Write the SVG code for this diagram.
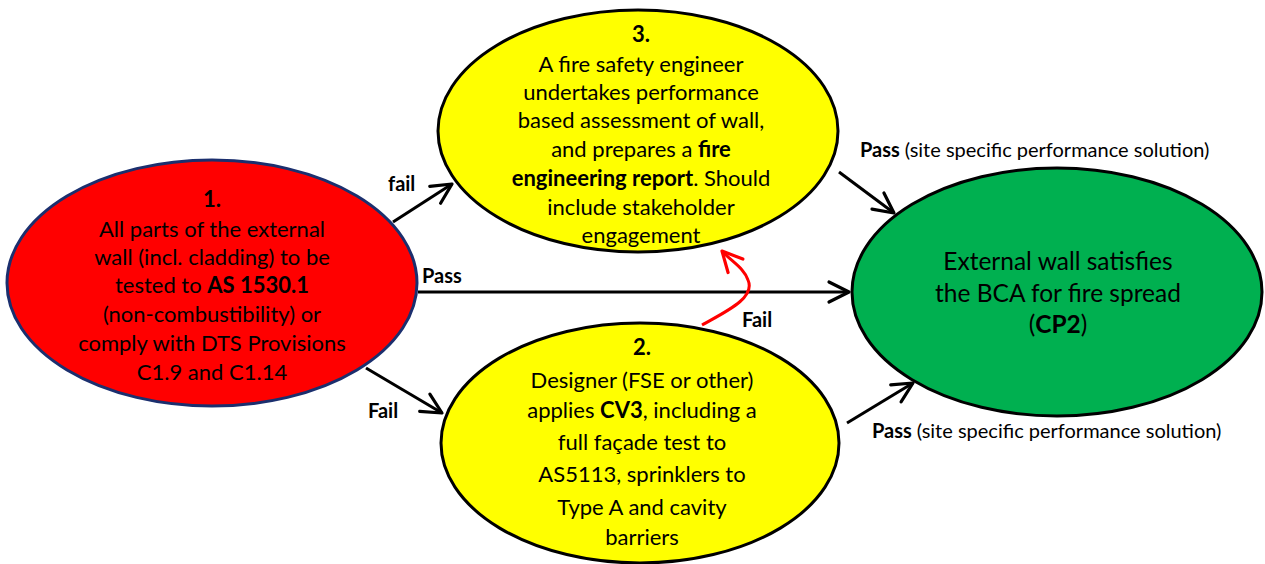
<svg xmlns="http://www.w3.org/2000/svg" width="1265" height="564" viewBox="0 0 1265 564">
  <style>
    .t { font-family: Lato, "Open Sans", sans-serif; font-size: 22px; fill: #000; text-anchor: middle; }
    .big { font-size: 24.5px; }
    .b { font-weight: bold; }
    .lbl { font-family: Lato, "Open Sans", sans-serif; font-size: 20px; fill: #000; font-weight: bold; }
    .lbln { font-weight: normal; font-size: 20px; }
    .edge { fill: none; stroke: #000; stroke-width: 3; marker-end: url(#arr); }
    .edge-red { fill: none; stroke: #FF0000; stroke-width: 3; marker-end: url(#arrRed); }
  </style>
  <defs>
    <marker id="arr" viewBox="-3 -3 26 26" refX="20" refY="10" markerWidth="26" markerHeight="26" markerUnits="userSpaceOnUse" orient="auto">
      <path d="M0,0 L20,10 L0,20" fill="none" stroke="#000" stroke-width="3.2" stroke-linecap="round" stroke-linejoin="round"/>
    </marker>
    <marker id="arrRed" viewBox="-3 -3 26 26" refX="20" refY="10" markerWidth="26" markerHeight="26" markerUnits="userSpaceOnUse" orient="auto">
      <path d="M0,0 L20,10 L0,20" fill="none" stroke="#FF0000" stroke-width="3.2" stroke-linecap="round" stroke-linejoin="round"/>
    </marker>
  </defs>
  <rect width="1265" height="564" fill="#fff"/>

  <!-- connectors -->
  <g id="connectors">
    <line class="edge" x1="393" y1="222" x2="452" y2="184"/>
    <line class="edge" x1="366" y1="368" x2="442" y2="413"/>
    <line class="edge" x1="418" y1="292" x2="849" y2="292"/>
    <line class="edge" x1="839" y1="172" x2="894" y2="213"/>
    <line class="edge" x1="847" y1="423" x2="913" y2="383"/>
    <path class="edge-red" d="M702,325 C725,312 756,298 748,280 C744,268 732,262 722,251"/>
    <text class="lbl" x="388" y="191">fail</text>
    <text class="lbl" x="368" y="418">Fail</text>
    <text class="lbl" x="422" y="283">Pass</text>
    <text class="lbl" x="742" y="327">Fail</text>
    <text class="lbl" x="860" y="157">Pass <tspan class="lbln">(site specific performance solution)</tspan></text>
    <text class="lbl" x="872" y="438">Pass <tspan class="lbln">(site specific performance solution)</tspan></text>
  </g>

  <!-- 1. external wall tested to AS 1530.1 -->
  <g id="node1">
    <ellipse cx="212" cy="283" rx="205" ry="123" fill="#FF0000" stroke="#1B2F6E" stroke-width="3"/>
    <text class="t" x="212" y="207"><tspan class="b">1.</tspan></text>
    <text class="t" x="212" y="237">All parts of the external</text>
    <text class="t" x="212" y="265">wall (incl. cladding) to be</text>
    <text class="t" x="212" y="293">tested to <tspan class="b">AS 1530.1</tspan></text>
    <text class="t" x="212" y="322">(non-combustibility) or</text>
    <text class="t" x="212" y="351">comply with DTS Provisions</text>
    <text class="t" x="212" y="380">C1.9 and C1.14</text>
  </g>

  <!-- 3. fire safety engineer assessment -->
  <g id="node3">
    <ellipse cx="638" cy="131" rx="200" ry="121" fill="#FFFF00" stroke="#000" stroke-width="3"/>
    <text class="t" x="641" y="42"><tspan class="b">3.</tspan></text>
    <text class="t" x="641" y="72">A fire safety engineer</text>
    <text class="t" x="641" y="100">undertakes performance</text>
    <text class="t" x="641" y="128">based assessment of wall,</text>
    <text class="t" x="641" y="157">and prepares a <tspan class="b">fire</tspan></text>
    <text class="t" x="641" y="186"><tspan class="b">engineering report</tspan>. Should</text>
    <text class="t" x="641" y="215">include stakeholder</text>
    <text class="t" x="641" y="243">engagement</text>
  </g>

  <!-- 2. designer applies CV3 -->
  <g id="node2">
    <ellipse cx="640" cy="443" rx="199" ry="120" fill="#FFFF00" stroke="#000" stroke-width="3"/>
    <text class="t" x="642" y="355"><tspan class="b">2.</tspan></text>
    <text class="t" x="642" y="388">Designer (FSE or other)</text>
    <text class="t" x="642" y="418">applies <tspan class="b">CV3</tspan>, including a</text>
    <text class="t" x="642" y="450">full façade test to</text>
    <text class="t" x="642" y="482">AS5113, sprinklers to</text>
    <text class="t" x="642" y="515">Type A and cavity</text>
    <text class="t" x="642" y="545">barriers</text>
  </g>

  <!-- outcome: BCA satisfied -->
  <g id="node4">
    <ellipse cx="1057" cy="292" rx="205" ry="124" fill="#00B050" stroke="#000" stroke-width="3"/>
    <text class="t big" x="1058" y="270">External wall satisfies</text>
    <text class="t big" x="1058" y="302">the BCA for fire spread</text>
    <text class="t big" x="1058" y="333">(<tspan class="b">CP2</tspan>)</text>
  </g>
</svg>
